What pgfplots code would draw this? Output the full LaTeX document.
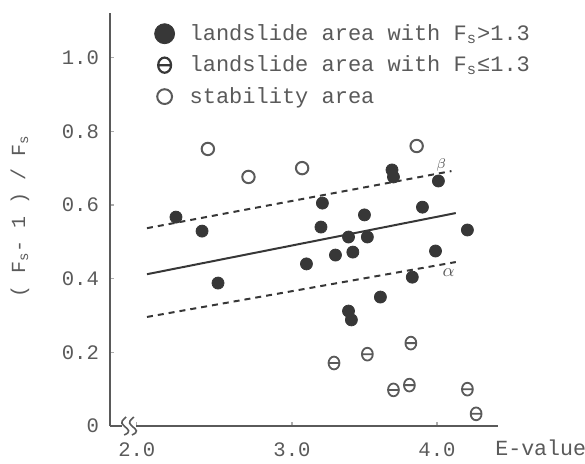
\documentclass[border=0pt]{standalone}
\usepackage{fontspec}
\setmainfont{Liberation Mono}
\usepackage{pgfplots}
\pgfplotsset{compat=1.18}
\usepackage{pgfplotstable}

\definecolor{ink}{RGB}{55,55,55}
\definecolor{txt}{RGB}{90,90,90}

% circle with a bar through it
\pgfdeclareplotmark{theta}{%
  \pgfpathellipse{\pgfpointorigin}{\pgfpoint{0.85\pgfplotmarksize}{0pt}}{\pgfpoint{0pt}{\pgfplotmarksize}}%
  \pgfpathmoveto{\pgfpoint{-0.85\pgfplotmarksize}{0pt}}%
  \pgfpathlineto{\pgfpoint{0.85\pgfplotmarksize}{0pt}}%
  \pgfusepathqstroke}

\pgfplotstableread{
E     F
2.20  0.567
2.38  0.529
2.49  0.388
3.10  0.440
3.20  0.540
3.21  0.605
3.30  0.464
3.39  0.513
3.42  0.472
3.50  0.573
3.52  0.513
3.39  0.312
3.41  0.288
3.61  0.350
3.69  0.695
3.70  0.676
3.83  0.404
3.90  0.594
3.99  0.475
4.01  0.665
4.21  0.532
}\slidehigh

\pgfplotstableread{
E     F
3.29  0.171
3.52  0.195
3.82  0.225
3.70  0.098
3.81  0.111
4.21  0.100
4.27  0.033
}\slidelow

\pgfplotstableread{
E     F
2.42  0.752
2.70  0.676
3.07  0.700
3.86  0.760
}\stable

\begin{document}
\begin{tikzpicture}
\useasboundingbox (-55pt,-18.5pt) rectangle (237.5pt,213pt);
\begin{axis}[
    scale only axis,
    width=194pt, height=206.5pt,
    xmin=1.745, xmax=4.421,
    ymin=0, ymax=1.121,
    clip=false,
    axis lines=left,
    axis line style={-, draw=txt, line width=0.9pt},
    xtick={1.93,3,4},
    xticklabels={2.0,3.0,4.0},
    ytick={0,0.2,0.4,0.6,0.8,1.0},
    yticklabels={0,0.2,0.4,0.6,0.8,1.0},
    /pgf/number format/assume math mode=true,
    tick align=inside,
    major tick length=2pt,
    tick style={draw=txt!50, line width=0.6pt},
    ticklabel style={text=txt, font=\fontsize{10.3}{12}\selectfont},
    yticklabel style={xshift=-2pt},
    xticklabel style={yshift=-5pt},
    xlabel={E-value},
    xlabel style={at={(rel axis cs:0.975,0)}, anchor=west, yshift=-11pt, text=txt,
        font=\fontsize{10.8}{12}\selectfont},
    ylabel={(~F\textsubscript{s}-~1~)~/~F\textsubscript{s}},
    ylabel style={at={(axis description cs:-0.232,0.508)}, anchor=center, text=txt},
    legend style={draw=none, fill=none, at={(rel axis cs:0.114,0.981)}, anchor=north west,
        inner sep=0pt, row sep=3.25pt, column sep=6pt, text=txt, nodes={inner sep=1.5pt},
        font=\fontsize{11}{13}\selectfont},
    legend cell align=left,
]
% regression line and bounds
\addplot[ink, line width=1pt, forget plot] coordinates {(2.0,0.412) (4.13,0.578)};
\addplot[ink, line width=1pt, dash pattern=on 3pt off 2.5pt, forget plot] coordinates {(2.0,0.537) (4.10,0.692)};
\addplot[ink, line width=1pt, dash pattern=on 3pt off 2.5pt, forget plot] coordinates {(2.0,0.296) (4.13,0.445)};

\addplot[only marks, mark=*, mark size=3pt, draw=ink, fill=ink, forget plot] table[x=E, y=F] {\slidehigh};
\addplot[only marks, mark=theta, mark size=3.2pt, draw=txt, line width=0.9pt, forget plot] table[x=E, y=F] {\slidelow};
\addplot[only marks, mark=o, mark size=3.1pt, draw=txt, line width=1pt, forget plot] table[x=E, y=F] {\stable};

\addlegendimage{only marks, mark=*, mark size=5pt, draw=ink, fill=ink}
\addlegendentry{landslide area with F\textsubscript{s}>1.3}
\addlegendimage{only marks, mark=theta, mark size=3.8pt, draw=ink, line width=1.1pt}
\addlegendentry{landslide area with F\textsubscript{s}≤1.3}
\addlegendimage{only marks, mark=o, mark size=3.7pt, draw=txt, line width=1pt}
\addlegendentry{stability area}

\node[text=txt, font=\scriptsize] at (axis cs:4.03,0.708) {$\beta$};
\node[text=txt, font=\small] at (axis cs:4.08,0.415) {$\alpha$};

% axis break on the E axis
\fill[white] (rel axis cs:0.031,-0.01) rectangle (rel axis cs:0.068,0.01);
\draw[txt, line width=0.8pt] (rel axis cs:0.039,0) ++(-0.5pt,-4.5pt) .. controls +(3.5pt,1.5pt) and +(2.5pt,-2pt) .. ++(0pt,4.5pt) .. controls +(-2.5pt,2pt) and +(-1.5pt,-1.5pt) .. ++(1pt,4.5pt);
\draw[txt, line width=0.8pt] (rel axis cs:0.059,0) ++(-0.5pt,-4.5pt) .. controls +(3.5pt,1.5pt) and +(2.5pt,-2pt) .. ++(0pt,4.5pt) .. controls +(-2.5pt,2pt) and +(-1.5pt,-1.5pt) .. ++(1pt,4.5pt);
\end{axis}
\end{tikzpicture}
\end{document}
